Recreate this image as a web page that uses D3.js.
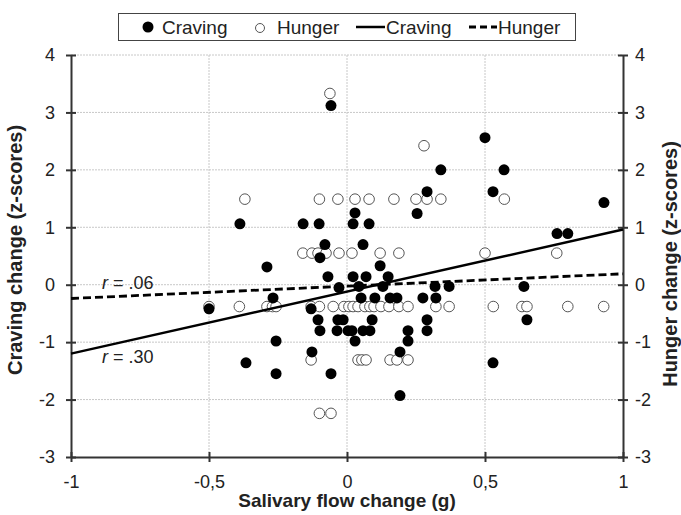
<!DOCTYPE html>
<html>
<head>
<meta charset="utf-8">
<script src="https://cdn.jsdelivr.net/npm/d3@7"></script>
<style>
  body { margin: 0; background: #fff; }
  text { font-family: "Liberation Sans", Arial, sans-serif; fill: #222; }
</style>
</head>
<body>
<div id="chart"></div>
<script>
// craving change (filled) : salivary flow change, z-score
let cravingX = [-0.058, -0.388, -0.159, -0.101, 0.022, 0.029, 0.08, -0.08, 0.058, -0.098,
    -0.29, 0.12, -0.069, 0.022, 0.069, 0.149, -0.029, 0.043, 0.13, -0.268,
    0.051, 0.101, 0.156, 0.181, -0.50, -0.13, -0.105, -0.033, -0.014, 0.091,
    -0.098, -0.036, 0.004, 0.018, 0.058, 0.083, -0.257, 0.029, -0.127, -0.257,
    -0.058, 0.192, 0.192, 0.221, 0.221, 0.29, 0.29, 0.275, 0.322, 0.319,
    0.37, 0.50, 0.34, 0.569, 0.29, 0.529, 0.931, 0.254, 0.761, 0.80,
    0.641, 0.652, 0.529, -0.366];
let cravingY = [3.12, 1.06, 1.06, 1.06, 1.06, 1.25, 1.06, 0.70, 0.70, 0.47,
    0.31, 0.33, 0.14, 0.14, 0.14, 0.14, -0.05, -0.03, -0.03, -0.23,
    -0.23, -0.23, -0.23, -0.23, -0.42, -0.42, -0.61, -0.61, -0.61, -0.61,
    -0.80, -0.80, -0.80, -0.80, -0.80, -0.80, -0.98, -0.98, -1.17, -1.55,
    -1.55, -1.17, -1.93, -0.80, -0.98, -0.61, -0.80, -0.23, -0.23, -0.03,
    -0.03, 2.56, 2.0, 2.0, 1.62, 1.62, 1.43, 1.24, 0.89, 0.89,
    -0.03, -0.61, -1.36, -1.36];

// hunger change (open)
let hungerX = [-0.062, 0.279,
    -0.37, -0.10, -0.033, 0.029, 0.08, 0.17, 0.25, 0.29, 0.34, 0.57,
    -0.16, -0.127, -0.105, -0.076, -0.029, 0.018, 0.12, 0.188, 0.5, 0.76,
    -0.5, -0.39, -0.29, -0.27, -0.257, -0.13, -0.10, -0.05, -0.011, 0.007,
    0.022, 0.04, 0.065, 0.083, 0.098, 0.123, 0.152, 0.188, 0.221, 0.322,
    0.37, 0.53, 0.634, 0.652, 0.80, 0.93,
    -0.13, 0.04, 0.054, 0.069, 0.156, 0.181, 0.221,
    -0.10, -0.058];
let hungerY = [3.33, 2.42,
    1.49, 1.49, 1.49, 1.49, 1.49, 1.49, 1.49, 1.49, 1.49, 1.49,
    0.55, 0.55, 0.55, 0.55, 0.55, 0.55, 0.55, 0.55, 0.55, 0.55,
    -0.38, -0.38, -0.38, -0.38, -0.38, -0.38, -0.38, -0.38, -0.38, -0.38,
    -0.38, -0.38, -0.38, -0.38, -0.38, -0.38, -0.38, -0.38, -0.38, -0.38,
    -0.38, -0.38, -0.38, -0.38, -0.38, -0.38,
    -1.31, -1.31, -1.31, -1.31, -1.31, -1.31, -1.31,
    -2.24, -2.24];

// fitted lines (x, y at the two ends)
let cravingFitX = [-1, 1];
let cravingFitY = [-1.2, 0.96];
let hungerFitX = [-1, 1];
let hungerFitY = [-0.24, 0.19];

// correlation labels and the y value of their baseline
let rText = [".06", ".30"];
let rAt = [-0.08, -1.36];

let xTicks = [-1, -0.5, 0, 0.5, 1];
let yTicks = [-3, -2, -1, 0, 1, 2, 3, 4];

var margin = { top: 55, right: 58, bottom: 58, left: 71 };
let width = 681 - margin.left - margin.right;
let height = 515 - margin.top - margin.bottom;

var svg = d3.select("#chart")
    .append("svg")
    .attr("width", 681)
    .attr("height", 515)
    .append("g")
    .attr("transform", "translate(" + margin.left + "," + margin.top + ")");

var x = d3.scaleLinear().domain([-1, 1]).range([0, width]);
var y = d3.scaleLinear().domain([-3, 4]).range([height, 0]);

let comma = d => String(d).replace(".", ",");

// grid
svg.append("g")
    .selectAll("line")
    .data(xTicks.slice(1, -1))
    .enter().append("line")
    .attr("x1", d => x(d)).attr("x2", d => x(d))
    .attr("y1", 0).attr("y2", height)
    .attr("stroke", "#c8c8c8").attr("stroke-dasharray", "2,1");
svg.append("g")
    .selectAll("line")
    .data(yTicks.slice(1))
    .enter().append("line")
    .attr("x1", 0).attr("x2", width)
    .attr("y1", d => y(d)).attr("y2", d => y(d))
    .attr("stroke", "#c8c8c8").attr("stroke-dasharray", "2,1");

// axes
function styleAxis(g, horizontal) {
    g.select(".domain").attr("stroke", "#333").attr("stroke-width", 2);
    g.selectAll(".tick line").attr("stroke", "#333").attr("stroke-width", 2);
    if (horizontal) g.selectAll(".tick line").attr("y1", -5).attr("y2", 5);
    else g.selectAll(".tick line").attr("x1", -5).attr("x2", 5);
    g.selectAll(".tick text").style("font-size", "18px").attr("fill", "#222");
}

svg.append("g")
    .attr("transform", "translate(0," + height + ")")
    .call(d3.axisBottom(x).tickValues(xTicks).tickFormat(comma).tickSizeOuter(0).tickPadding(12))
    .call(g => styleAxis(g, true));

svg.append("g")
    .call(d3.axisLeft(y).tickValues(yTicks).tickFormat(comma).tickSizeOuter(0).tickPadding(10))
    .call(g => styleAxis(g, false));

svg.append("g")
    .attr("transform", "translate(" + width + ",0)")
    .call(d3.axisRight(y).tickValues(yTicks).tickFormat(comma).tickSizeOuter(0).tickPadding(6))
    .call(g => styleAxis(g, false));

// axis titles
svg.append("text")
    .attr("x", width / 2).attr("y", height + 50)
    .attr("text-anchor", "middle")
    .style("font-size", "19px").style("font-weight", "bold")
    .text("Salivary flow change (g)");
svg.append("text")
    .attr("transform", "translate(" + (-49) + "," + (height / 2 - 6) + ") rotate(-90)")
    .attr("text-anchor", "middle")
    .style("font-size", "20px").style("font-weight", "bold")
    .text("Craving change (z-scores)");
svg.append("text")
    .attr("transform", "translate(" + (width + 54) + "," + (height / 2 + 8) + ") rotate(-90)")
    .attr("text-anchor", "middle")
    .style("font-size", "20px").style("font-weight", "bold")
    .text("Hunger change (z-scores)");

// points
svg.append("g")
    .selectAll("circle")
    .data(hungerX.map((d, i) => [d, hungerY[i]]))
    .enter().append("circle")
    .attr("cx", d => x(d[0])).attr("cy", d => y(d[1]))
    .attr("r", 5.3)
    .attr("fill", "#fff").attr("stroke", "#555").attr("stroke-width", 1);

svg.append("g")
    .selectAll("circle")
    .data(cravingX.map((d, i) => [d, cravingY[i]]))
    .enter().append("circle")
    .attr("cx", d => x(d[0])).attr("cy", d => y(d[1]))
    .attr("r", 5.5)
    .attr("fill", "#000");

// fit lines
var line = d3.line().x(d => x(d[0])).y(d => y(d[1]));
svg.append("path")
    .datum(cravingFitX.map((d, i) => [d, cravingFitY[i]]))
    .attr("d", line).attr("fill", "none")
    .attr("stroke", "#000").attr("stroke-width", 2.5);
svg.append("path")
    .datum(hungerFitX.map((d, i) => [d, hungerFitY[i]]))
    .attr("d", line).attr("fill", "none")
    .attr("stroke", "#000").attr("stroke-width", 2.8)
    .attr("stroke-dasharray", "8,4");

// r labels
rText.forEach(function (r, i) {
    let t = svg.append("text")
        .attr("x", 31)
        .attr("y", y(rAt[i]))
        .style("font-size", "18px");
    t.append("tspan").style("font-style", "italic").text("r");
    t.append("tspan").text(" = " + r);
});

// legend
var legend = d3.select("svg").append("g");
legend.append("rect")
    .attr("x", 118.5).attr("y", 13.5).attr("width", 457).attr("height", 27)
    .attr("fill", "#fff").attr("stroke", "#444").attr("stroke-width", 1);
legend.append("circle").attr("cx", 148).attr("cy", 27).attr("r", 5.5).attr("fill", "#000");
legend.append("text").attr("x", 162).attr("y", 34).style("font-size", "19px").text("Craving");
legend.append("circle").attr("cx", 260).attr("cy", 28).attr("r", 4.5)
    .attr("fill", "#fff").attr("stroke", "#555");
legend.append("text").attr("x", 277).attr("y", 34).style("font-size", "19px").text("Hunger");
legend.append("line").attr("x1", 356).attr("x2", 385).attr("y1", 27).attr("y2", 27)
    .attr("stroke", "#000").attr("stroke-width", 2.5);
legend.append("text").attr("x", 386).attr("y", 34).style("font-size", "19px").text("Craving");
legend.append("line").attr("x1", 469).attr("x2", 497).attr("y1", 27).attr("y2", 27)
    .attr("stroke", "#000").attr("stroke-width", 2.8).attr("stroke-dasharray", "7,4");
legend.append("text").attr("x", 498).attr("y", 34).style("font-size", "19px").text("Hunger");
</script>
</body>
</html>
